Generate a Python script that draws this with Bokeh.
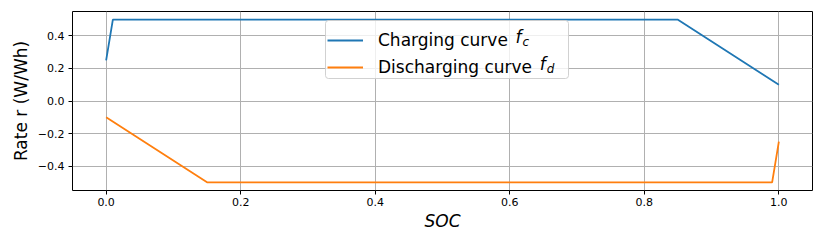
from bokeh.plotting import figure
from bokeh.models import Range1d, FixedTicker, Legend, LegendItem, Label, BoxAnnotation
from bokeh.embed import file_html
from bokeh.resources import INLINE

# data
soc_charge = [0.0, 0.01, 0.85, 1.0]
rate_charge = [0.25, 0.5, 0.5, 0.1]
soc_discharge = [0.0, 0.15, 0.99, 1.0]
rate_discharge = [-0.1, -0.5, -0.5, -0.25]

x_ticks = [0.0, 0.2, 0.4, 0.6, 0.8, 1.0]
x_tick_labels = ["0.0", "0.2", "0.4", "0.6", "0.8", "1.0"]
y_ticks = [-0.4, -0.2, 0.0, 0.2, 0.4]
y_tick_labels = ["\u22120.4", "\u22120.2", "0.0", "0.2", "0.4"]

FONT = "DejaVu Sans"
BLUE = "#1f77b4"
ORANGE = "#ff7f0e"
LABEL_PX = 17

p = figure(width=814, height=233, output_backend="svg", toolbar_location=None,
           x_range=Range1d(-0.05, 1.05), y_range=Range1d(-0.55, 0.55),
           min_border_left=72, min_border_right=2, min_border_top=11, min_border_bottom=40)
p.background_fill_color = "white"
p.border_fill_color = "white"
p.outline_line_color = "black"
p.outline_line_width = 1

r1 = p.line(soc_charge, rate_charge, line_color=BLUE, line_width=1.8)
r2 = p.line(soc_discharge, rate_discharge, line_color=ORANGE, line_width=1.8)

for ax, ticks, labels in ((p.xaxis[0], x_ticks, x_tick_labels), (p.yaxis[0], y_ticks, y_tick_labels)):
    ax.ticker = FixedTicker(ticks=ticks)
    ax.major_label_overrides = {t: l for t, l in zip(ticks, labels)}
    ax.minor_tick_line_color = None
    ax.major_tick_in = 0
    ax.major_tick_out = 4
    ax.major_tick_line_color = "black"
    ax.axis_line_color = None
    ax.major_label_text_font = FONT
    ax.major_label_text_font_size = "11px"
    ax.major_label_text_color = "black"
    ax.axis_label_text_font = FONT
    ax.axis_label_text_font_size = f"{LABEL_PX}px"
    ax.axis_label_text_color = "black"
    ax.major_label_standoff = 4

p.xaxis.major_label_standoff = 3
p.xaxis.axis_label = "SOC"
p.xaxis.axis_label_text_font_style = "italic"
p.xaxis.axis_label_standoff = 2
p.yaxis.axis_label = "Rate r (W/Wh)"
p.yaxis.axis_label_text_font_style = "normal"
p.yaxis.axis_label_standoff = 4

p.xgrid.grid_line_color = "#b0b0b0"
p.ygrid.grid_line_color = "#b0b0b0"
p.xgrid.grid_line_width = 1
p.ygrid.grid_line_width = 1

# legend frame (screen units relative to the plot frame)
LX, LY, LW, LH = 253, 112, 243, 58
box = BoxAnnotation(left=LX, right=LX + LW, bottom=LY, top=LY + LH,
                    left_units="screen", right_units="screen", top_units="screen", bottom_units="screen",
                    fill_color="white", fill_alpha=0.8, line_color="#cccccc", line_alpha=0.9,
                    line_width=1, border_radius=3, level="annotation")
p.add_layout(box)

legend = Legend(items=[LegendItem(label="Charging curve", renderers=[r1]),
                       LegendItem(label="Discharging curve", renderers=[r2])],
                location=(LX + 2, LY - 1))
legend.label_text_font = FONT
legend.label_text_font_size = "17px"
legend.label_text_color = "black"
legend.glyph_width = 36
legend.label_standoff = 15
legend.label_height = 24
legend.label_width = 180
legend.glyph_height = 24
legend.spacing = 3
legend.padding = 4
legend.margin = 0
legend.border_line_color = None
legend.background_fill_alpha = 0
p.add_layout(legend, "center")

# italic math symbols f_c, f_d after the legend labels
text_x0 = LX + 2 + 4 + 36 + 15
row1 = LY - 1 + 59 - 4 - 12
row2 = row1 - 27
w_charge = 7.976 * 17 - 2.5
w_dis = 9.397 * 17 - 2.5
for sub, yc, w in (("c", row1, w_charge), ("d", row2, w_dis)):
    p.add_layout(Label(x=text_x0 + w, y=yc, x_units="screen", y_units="screen", text="f",
                       text_font=FONT, text_font_style="italic", text_font_size="17px",
                       text_baseline="middle", text_align="left", text_color="black"))
    p.add_layout(Label(x=text_x0 + w + 7, y=yc - 5, x_units="screen", y_units="screen", text=sub,
                       text_font=FONT, text_font_style="italic", text_font_size="12px",
                       text_baseline="middle", text_align="left", text_color="black"))

open("out.html", "w").write(file_html(p, INLINE))
